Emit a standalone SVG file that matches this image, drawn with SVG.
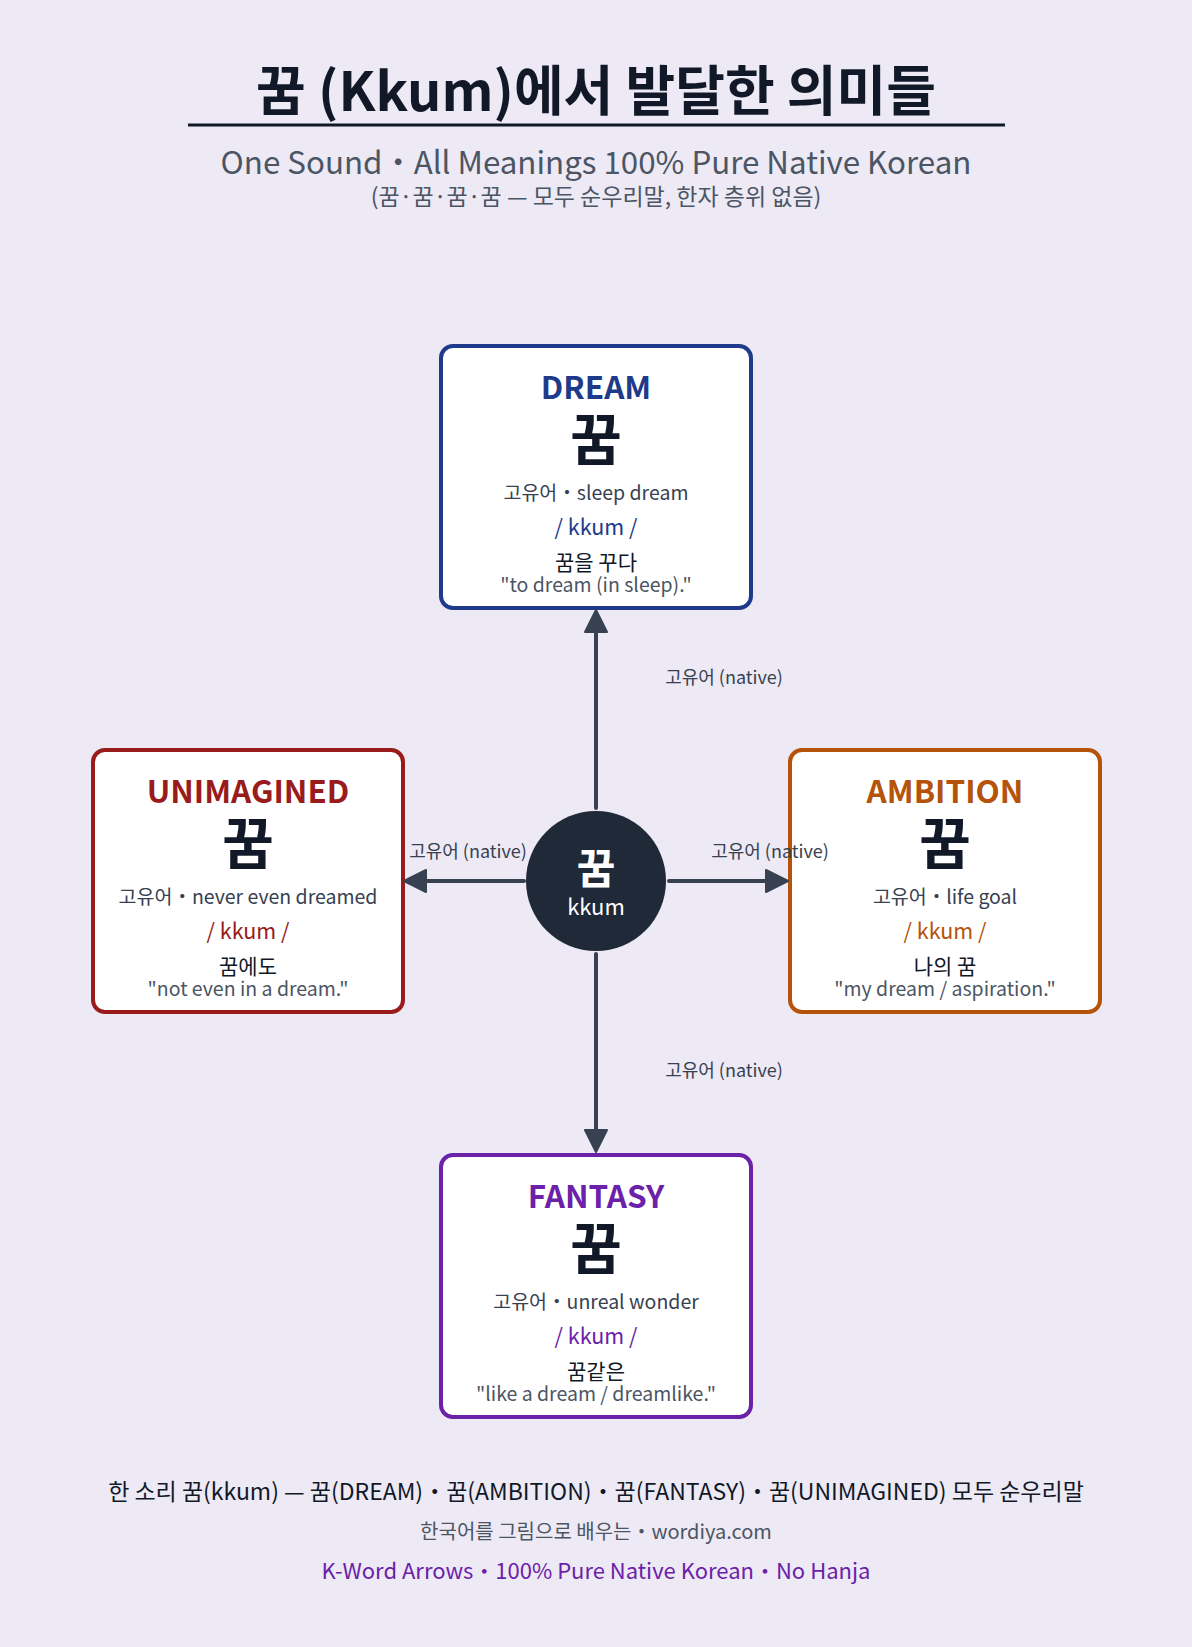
<svg xmlns="http://www.w3.org/2000/svg" width="1192" height="1647" viewBox="0 0 1192 1647">
<defs>
<style>
text{font-family:"Noto Sans CJK KR","Noto Sans",sans-serif;text-anchor:middle}
.title{font-size:54px;font-weight:700;fill:#111827}
.sub{font-size:31.3px;fill:#4b5563}
.sub2{font-size:23px;fill:#4b5563}
.box{fill:#ffffff;stroke-width:4}
.en{font-size:31.5px;font-weight:700}
.ko{font-size:56px;font-weight:700;fill:#111827}
.gloss{font-size:19.5px;fill:#374151}
.pron{font-size:21.5px}
.ex{font-size:21px;fill:#111827}
.tr{font-size:19.5px;fill:#4b5563}
.conn{stroke:#374151;stroke-width:4;fill:none;stroke-linecap:round}
.lbl{font-size:18px;fill:#374151}
.foot1{font-size:23px;fill:#111827}
.foot2{font-size:20px;fill:#4b5563}
.foot3{font-size:22px;fill:#6b21a8}
</style>
<marker id="arr" markerUnits="userSpaceOnUse" markerWidth="24" markerHeight="24" viewBox="-1 -1 24 24" refX="12" refY="11" orient="auto">
<path d="M0,0 L22,11 L0,22 z" fill="#374151" stroke="#374151" stroke-width="2" stroke-linejoin="round"/>
</marker>
</defs>
<rect x="0" y="0" width="1192" height="1647" fill="#ede9f5"/>

<g id="header">
<text class="title" x="596" y="111">꿈 (Kkum)에서 발달한 의미들</text>
<line x1="188" y1="125" x2="1005" y2="125" stroke="#111827" stroke-width="3"/>
<text class="sub" x="596" y="174">One Sound・All Meanings 100% Pure Native Korean</text>
<text class="sub2" x="596" y="205">(꿈·꿈·꿈·꿈 — 모두 순우리말, 한자 층위 없음)</text>
</g>

<g id="center">
<circle cx="596" cy="881" r="70" fill="#1f2937"/>
<text x="596" y="884" style="font-size:42px;font-weight:700;fill:#ffffff">꿈</text>
<text x="596" y="915" style="font-size:22px;fill:#ffffff">kkum</text>
</g>

<g id="dream">
<rect class="box" x="441" y="346" width="310" height="262" rx="12" stroke="#1e3a8a"/>
<text class="en" x="596" y="399" fill="#1e3a8a">DREAM</text>
<text class="ko" x="596" y="460">꿈</text>
<text class="gloss" x="596" y="500">고유어・sleep dream</text>
<text class="pron" x="596" y="535" fill="#1e3a8a">/ kkum /</text>
<text class="ex" x="596" y="570">꿈을 꾸다</text>
<text class="tr" x="596" y="592">"to dream (in sleep)."</text>
</g>

<g id="unimagined">
<rect class="box" x="93" y="750" width="310" height="262" rx="12" stroke="#991b1b"/>
<text class="en" x="248" y="803" fill="#991b1b">UNIMAGINED</text>
<text class="ko" x="248" y="864">꿈</text>
<text class="gloss" x="248" y="904">고유어・never even dreamed</text>
<text class="pron" x="248" y="939" fill="#991b1b">/ kkum /</text>
<text class="ex" x="248" y="974">꿈에도</text>
<text class="tr" x="248" y="996">"not even in a dream."</text>
</g>

<g id="ambition">
<rect class="box" x="790" y="750" width="310" height="262" rx="12" stroke="#b45309"/>
<text class="en" x="945" y="803" fill="#b45309">AMBITION</text>
<text class="ko" x="945" y="864">꿈</text>
<text class="gloss" x="945" y="904">고유어・life goal</text>
<text class="pron" x="945" y="939" fill="#b45309">/ kkum /</text>
<text class="ex" x="945" y="974">나의 꿈</text>
<text class="tr" x="945" y="996">"my dream / aspiration."</text>
</g>

<g id="fantasy">
<rect class="box" x="441" y="1155" width="310" height="262" rx="12" stroke="#6b21a8"/>
<text class="en" x="596" y="1208" fill="#6b21a8">FANTASY</text>
<text class="ko" x="596" y="1269">꿈</text>
<text class="gloss" x="596" y="1309">고유어・unreal wonder</text>
<text class="pron" x="596" y="1344" fill="#6b21a8">/ kkum /</text>
<text class="ex" x="596" y="1379">꿈같은</text>
<text class="tr" x="596" y="1401">"like a dream / dreamlike."</text>
</g>

<g id="connectors">
<line class="conn" x1="596" y1="808" x2="596" y2="620" marker-end="url(#arr)"/>
<line class="conn" x1="596" y1="954" x2="596" y2="1142" marker-end="url(#arr)"/>
<line class="conn" x1="524" y1="881" x2="414" y2="881" marker-end="url(#arr)"/>
<line class="conn" x1="669" y1="881" x2="778" y2="881" marker-end="url(#arr)"/>
<text class="lbl" x="724" y="684">고유어 (native)</text>
<text class="lbl" x="468" y="858">고유어 (native)</text>
<text class="lbl" x="770" y="858">고유어 (native)</text>
<text class="lbl" x="724" y="1077">고유어 (native)</text>
</g>

<g id="footer">
<text class="foot1" x="596" y="1500">한 소리 꿈(kkum) — 꿈(DREAM)・꿈(AMBITION)・꿈(FANTASY)・꿈(UNIMAGINED) 모두 순우리말</text>
<text class="foot2" x="596" y="1539">한국어를 그림으로 배우는・wordiya.com</text>
<text class="foot3" x="596" y="1579">K-Word Arrows・100% Pure Native Korean・No Hanja</text>
</g>
</svg>
